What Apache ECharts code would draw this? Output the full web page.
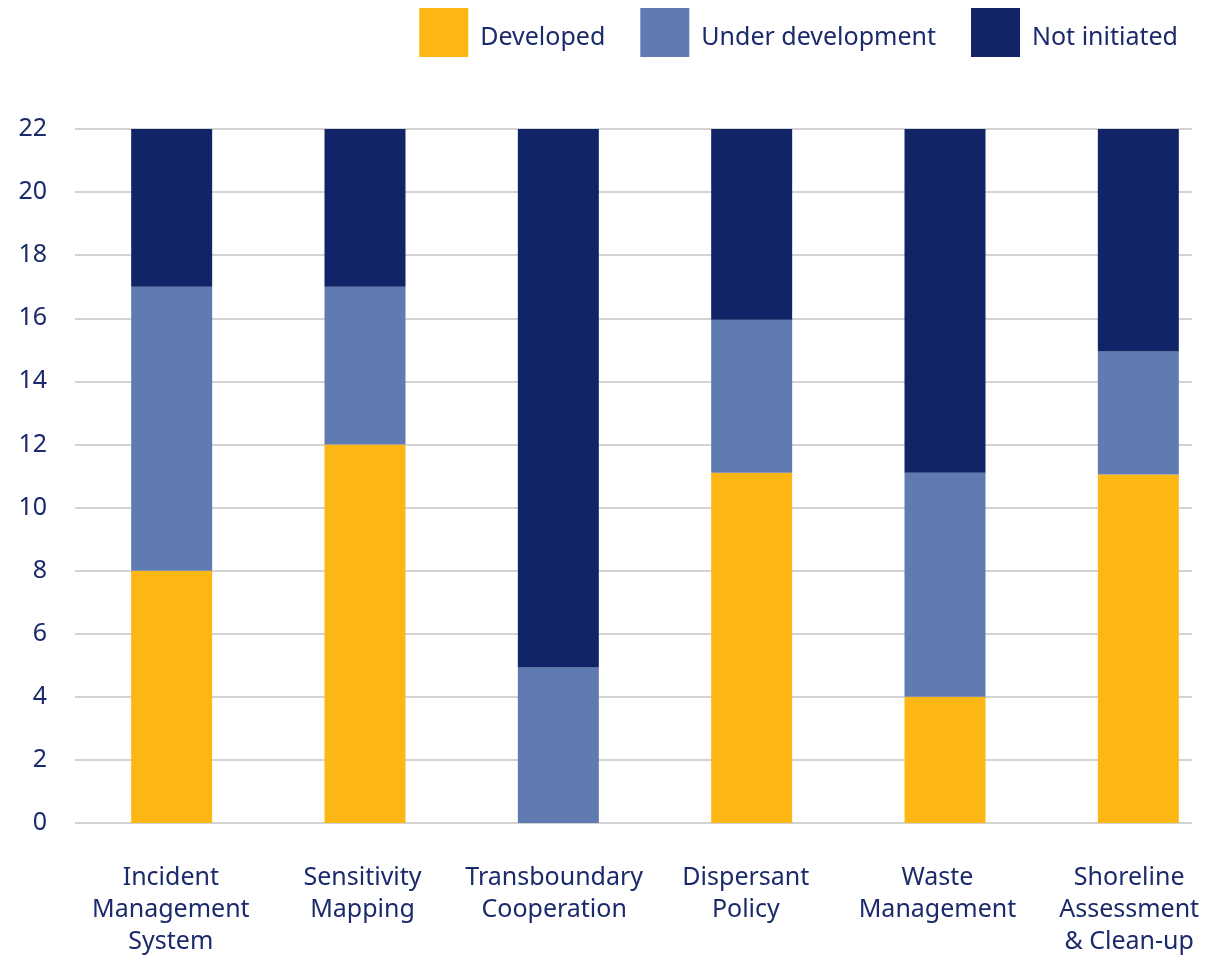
<!DOCTYPE html>
<html>
<head>
<meta charset="utf-8">
<script src="https://cdn.jsdelivr.net/npm/echarts@6/dist/echarts.min.js"></script>
<style>
  html, body { margin: 0; padding: 0; background: #fff; overflow: hidden; }
  #chart { width: 1220px; height: 955px; }
</style>
</head>
<body>
<div id="chart"></div>
<script>
const categories = [
  "Incident\nManagement\nSystem",
  "Sensitivity\nMapping",
  "Transboundary\nCooperation",
  "Dispersant\nPolicy",
  "Waste\nManagement",
  "Shoreline\nAssessment\n& Clean-up",
];
const developed = [8, 12, 0, 11.1, 4, 11.05];
const underDevelopment = [9, 5, 4.93, 4.85, 7.1, 3.9];
const notInitiated = [5, 5, 17.07, 6.05, 10.9, 7.05];
const yTicks = { min: 0, max: 22, interval: 2 };

const textColor = "#1b2a6b";
const fontFamily = "'Noto Sans', sans-serif";

const chart = echarts.init(document.getElementById("chart"));

const makeBar = (name, data, color) => ({
  name,
  type: "bar",
  stack: "total",
  xAxisIndex: 1,
  yAxisIndex: 1,
  barWidth: 81,
  itemStyle: { color },
  data,
});

const hiddenY = (gridIndex) => ({
  gridIndex,
  type: "value",
  min: yTicks.min,
  max: yTicks.max,
  interval: yTicks.interval,
  show: false,
  splitLine: { show: false },
});

chart.setOption({
  animation: false,
  textStyle: { fontFamily },
  legend: {
    top: 8,
    right: 42,
    padding: 0,
    itemWidth: 49,
    itemHeight: 49,
    itemGap: 35,
    icon: "rect",
    formatter: (name) => "{t|" + name + "}",
    textStyle: {
      color: textColor,
      rich: { t: { fontSize: 25, color: textColor, padding: [10, 0, 0, 7] } },
    },
    data: ["Developed", "Under development", "Not initiated"],
  },
  grid: [
    // gridlines and y labels
    { left: 75, width: 1117, top: 129, bottom: 132, outerBoundsMode: "none" },
    // bars
    { left: 75, width: 1160, top: 129, bottom: 132, outerBoundsMode: "none" },
    // category labels
    { left: 75, width: 1150, top: 129, bottom: 132, outerBoundsMode: "none" },
  ],
  xAxis: [
    { gridIndex: 0, type: "category", data: categories, show: false },
    { gridIndex: 1, type: "category", data: categories, show: false },
    {
      gridIndex: 2,
      type: "category",
      data: categories,
      axisLine: { show: false },
      axisTick: { show: false },
      axisLabel: {
        interval: 0,
        fontSize: 25,
        lineHeight: 32,
        margin: 39,
        color: textColor,
      },
    },
  ],
  yAxis: [
    {
      gridIndex: 0,
      type: "value",
      min: yTicks.min,
      max: yTicks.max,
      interval: yTicks.interval,
      axisLine: { show: false },
      axisTick: { show: false },
      axisLabel: { fontSize: 25, color: textColor, margin: 28 },
      splitLine: { lineStyle: { color: "#d3d3d3", width: 2 } },
    },
    hiddenY(1),
    hiddenY(2),
  ],
  series: [
    makeBar("Developed", developed, "#fdb714"),
    makeBar("Under development", underDevelopment, "#607bb1"),
    makeBar("Not initiated", notInitiated, "#112468"),
  ],
});
</script>
</body>
</html>
